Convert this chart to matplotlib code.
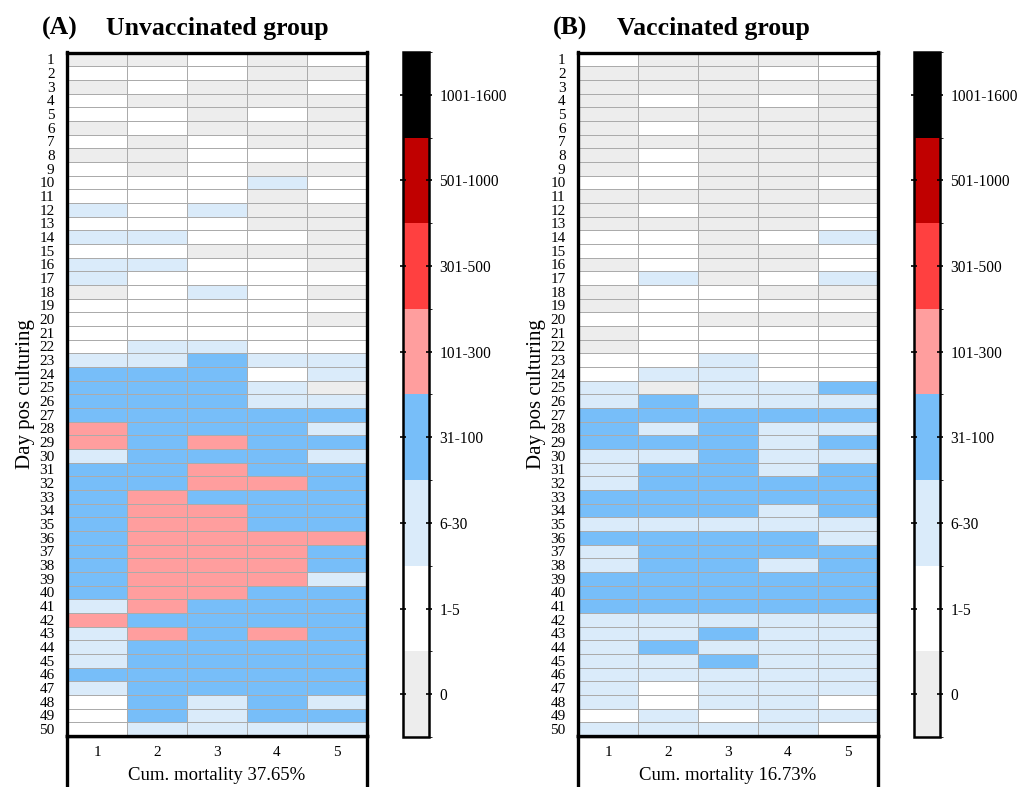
import numpy as np
import matplotlib
matplotlib.use("Agg")
import matplotlib.pyplot as plt
from matplotlib.colors import ListedColormap, BoundaryNorm
from matplotlib.cm import ScalarMappable

plt.rcParams['font.family'] = ['Liberation Serif', 'DejaVu Serif']

# =========================
# DATA (category index per cell: 0 = "0", 1 = "1-5", 2 = "6-30", 3 = "31-100", 4 = "101-300")
# =========================
days = list(range(1, 51))
replicates = [1, 2, 3, 4, 5]
bin_labels = ["0", "1-5", "6-30", "31-100", "101-300", "301-500", "501-1000", "1001-1600"]
bin_colors = ["#EDEDED", "#FFFFFF", "#DAEBFA", "#77BEF9", "#FF9E9E", "#FF4040", "#C00000", "#000000"]

unvaccinated = [
    [0, 0, 1, 0, 1], [1, 1, 1, 0, 0], [0, 1, 0, 0, 1], [1, 0, 0, 0, 0], [1, 1, 0, 1, 0],
    [0, 1, 0, 0, 0], [1, 0, 1, 0, 0], [0, 0, 1, 1, 1], [1, 0, 1, 0, 0], [1, 1, 1, 2, 1],
    [1, 1, 1, 0, 1], [2, 1, 2, 0, 0], [1, 1, 1, 0, 0], [2, 2, 1, 1, 0], [1, 1, 0, 0, 0],
    [2, 2, 1, 1, 0], [2, 1, 1, 1, 1], [0, 1, 2, 1, 0], [1, 1, 1, 1, 1], [1, 1, 1, 1, 0],
    [1, 1, 1, 1, 1], [1, 2, 2, 1, 1], [2, 2, 3, 2, 2], [3, 3, 3, 1, 2], [3, 3, 3, 2, 0],
    [3, 3, 3, 2, 2], [3, 3, 3, 3, 3], [4, 3, 3, 3, 2], [4, 3, 4, 3, 3], [2, 3, 3, 3, 2],
    [3, 3, 4, 3, 3], [3, 3, 4, 4, 3], [3, 4, 3, 3, 3], [3, 4, 4, 3, 3], [3, 4, 4, 3, 3],
    [3, 4, 4, 4, 4], [3, 4, 4, 4, 3], [3, 4, 4, 4, 3], [3, 4, 4, 4, 2], [3, 4, 4, 3, 3],
    [2, 4, 3, 3, 3], [4, 3, 3, 3, 3], [2, 4, 3, 4, 3], [2, 3, 3, 3, 3], [2, 3, 3, 3, 3],
    [3, 3, 3, 3, 3], [2, 3, 3, 3, 3], [1, 3, 2, 3, 2], [1, 3, 2, 3, 3], [1, 2, 2, 2, 2],
]

vaccinated = [
    [1, 0, 0, 0, 1], [0, 0, 0, 1, 1], [0, 0, 0, 0, 0], [0, 1, 0, 1, 0], [0, 0, 0, 0, 0],
    [0, 1, 0, 0, 0], [0, 0, 0, 0, 0], [0, 1, 0, 0, 0], [0, 1, 0, 0, 0], [1, 1, 0, 0, 1],
    [0, 0, 0, 0, 0], [0, 1, 0, 0, 1], [0, 0, 0, 0, 1], [1, 1, 0, 1, 2], [1, 1, 0, 0, 1],
    [0, 1, 0, 0, 1], [1, 2, 0, 1, 2], [0, 1, 1, 0, 0], [0, 1, 1, 1, 1], [1, 1, 0, 0, 0],
    [0, 1, 1, 1, 1], [0, 1, 1, 1, 1], [1, 1, 2, 1, 1], [1, 2, 2, 1, 1], [2, 0, 2, 2, 3],
    [2, 3, 2, 2, 2], [3, 3, 3, 3, 3], [3, 2, 3, 2, 2], [3, 3, 3, 2, 3], [2, 2, 3, 2, 2],
    [2, 3, 3, 2, 3], [2, 3, 3, 3, 3], [3, 3, 3, 3, 3], [3, 3, 3, 2, 3], [2, 2, 2, 2, 2],
    [3, 3, 3, 3, 2], [2, 3, 3, 3, 3], [2, 3, 3, 2, 3], [3, 3, 3, 3, 3], [3, 3, 3, 3, 3],
    [3, 3, 3, 3, 3], [2, 2, 2, 2, 2], [2, 2, 3, 2, 2], [2, 3, 2, 2, 2], [2, 2, 3, 2, 2],
    [2, 2, 2, 2, 2], [2, 1, 2, 2, 2], [2, 1, 2, 2, 1], [1, 2, 1, 2, 2], [2, 2, 2, 2, 1],
]

panels = [
    ("(A)", "Unvaccinated group", unvaccinated, "Cum. mortality 37.65%"),
    ("(B)", "Vaccinated group", vaccinated, "Cum. mortality 16.73%"),
]

# =========================
# FIGURE
# =========================
W, H = 1021, 787
fig = plt.figure(figsize=(W / 100, H / 100), dpi=100)

cmap = ListedColormap(bin_colors)
norm = BoundaryNorm(np.arange(-0.5, len(bin_colors) + 0.5, 1), cmap.N)


def fig_rect(x0, y0, x1, y1):
    # pixel box (top-left origin) -> figure fraction rect
    return [x0 / W, 1 - y1 / H, (x1 - x0) / W, (y1 - y0) / H]


offsets = [0, 511]
for (tag, title, grid, xlabel), dx in zip(panels, offsets):
    # frame box below the heatmap (runs off the figure bottom)
    box = fig.add_axes(fig_rect(67 + dx, 736, 367 + dx, 820))
    box.set_xticks([])
    box.set_yticks([])
    for sp in box.spines.values():
        sp.set_linewidth(2.4)

    ax = fig.add_axes(fig_rect(67 + dx, 52.5, 367 + dx, 736))
    vals = np.array(grid)
    x_edges = np.arange(len(replicates) + 1) + 0.5
    y_edges = np.arange(len(days) + 1) + 0.5
    ax.pcolormesh(x_edges, y_edges, vals, cmap=cmap, norm=norm,
                  edgecolors="#ABABAB", linewidth=0.6)
    ax.set_xlim(0.5, len(replicates) + 0.5)
    ax.set_ylim(len(days) + 0.5, 0.5)
    ax.set_yticks(days)
    ax.set_yticklabels([str(d) for d in days], fontsize=11)
    ax.set_xticks(replicates)
    ax.set_xticklabels([str(r) for r in replicates], fontsize=11)
    ax.tick_params(axis="y", length=0, pad=9)
    ax.tick_params(axis="x", length=0, pad=7)
    ax.set_xlabel(xlabel, fontsize=13.5, labelpad=6)
    ax.set_ylabel("Day pos culturing", fontsize=15, labelpad=3)
    for sp in ax.spines.values():
        sp.set_linewidth(2.4)

    fig.text((42 + dx) / W, 1 - 28 / H, tag, fontsize=18.5, fontweight="bold", va="center")
    fig.text((106 + dx) / W, 1 - 28 / H, title, fontsize=18.5, fontweight="bold", va="center")

    # colorbar legend
    cax = fig.add_axes(fig_rect(403 + dx, 52, 429 + dx, 737))
    cb = fig.colorbar(ScalarMappable(norm=norm, cmap=cmap), cax=cax,
                      ticks=np.arange(len(bin_labels)))
    cb.set_ticklabels(bin_labels)
    cb.outline.set_linewidth(1.8)
    cax.tick_params(labelsize=11.2, direction="inout", length=5, width=1.2,
                    left=True, right=True, pad=5)

fig.savefig("out.png", dpi=100)
